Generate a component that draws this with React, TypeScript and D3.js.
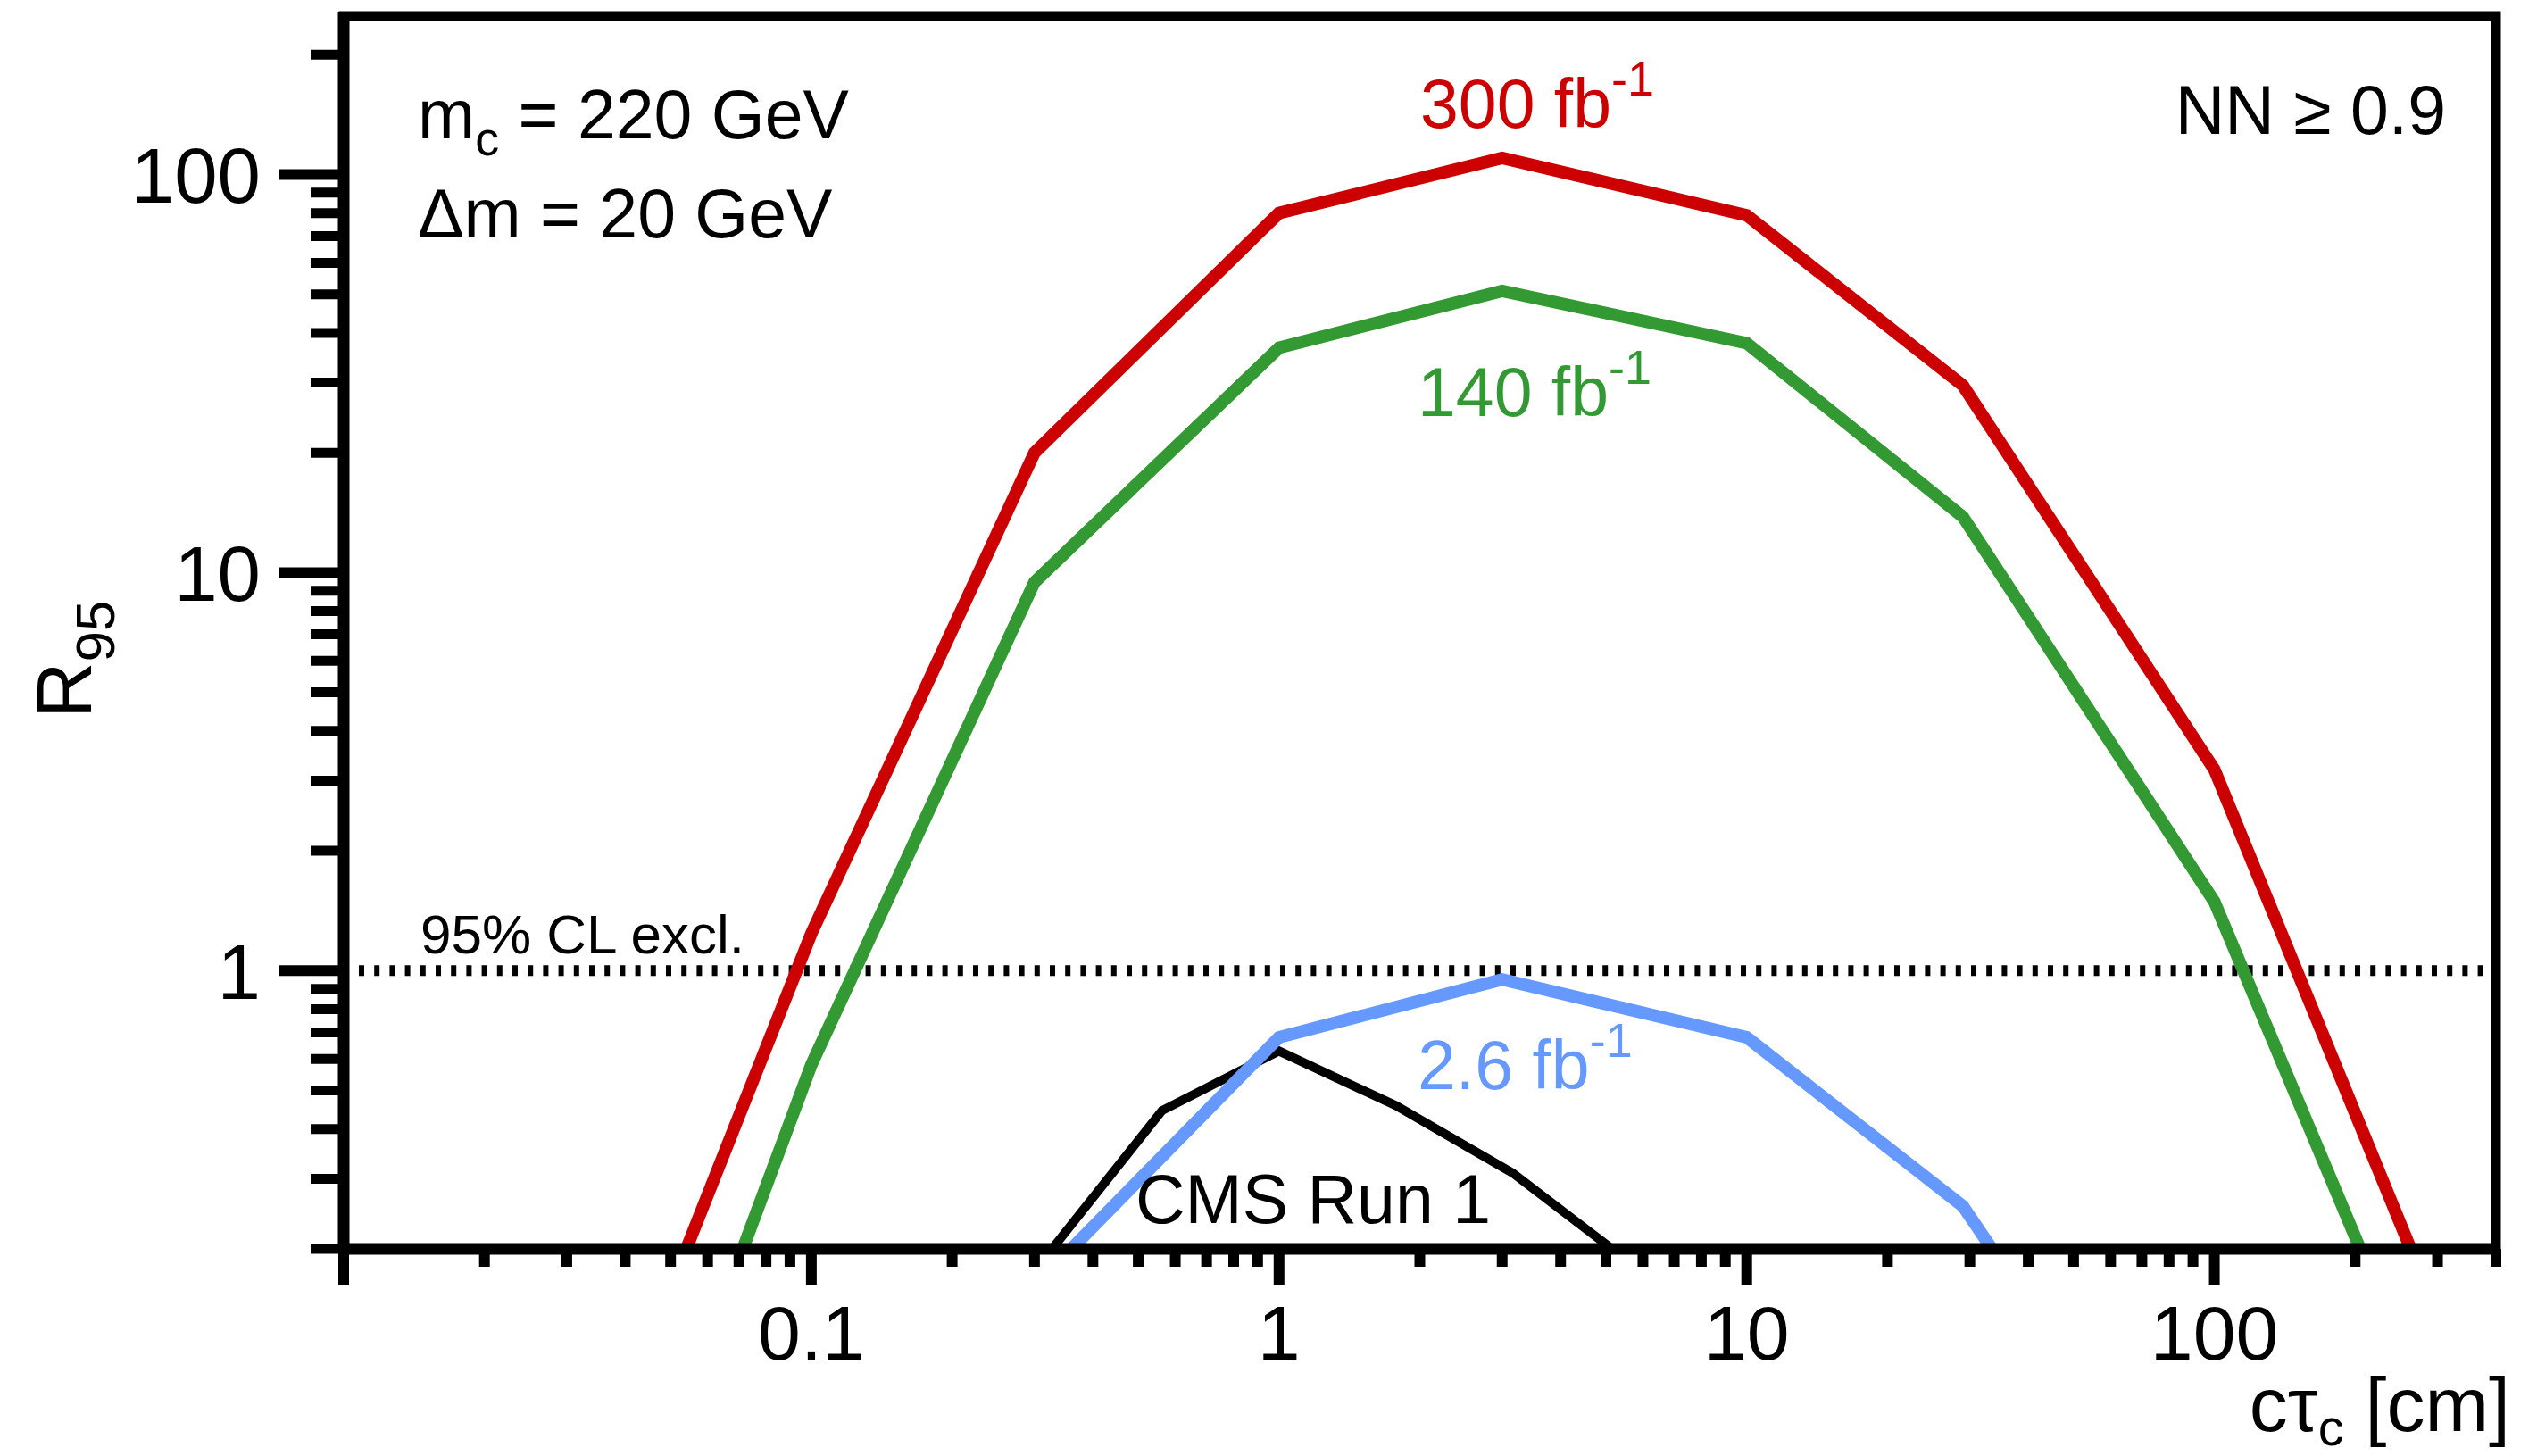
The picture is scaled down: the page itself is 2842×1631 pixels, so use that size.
import React from "react";
import * as d3 from "d3";

// ---- Data ----
const gridX = [0.03, 0.1, 0.3, 1, 3, 10, 29, 100, 300];
const r95_300 = [0.035, 1.24, 20.0, 80, 110, 79, 29.5, 3.2, 0.137];
const r95_140 = [0.013, 0.58, 9.46, 36.7, 51, 37.7, 13.8, 1.49, 0.069];

const lumi26X = [0.3, 1, 3, 10, 29, 100];
const r95_26 = [0.161, 0.68, 0.95, 0.68, 0.256, 0.03];

const cmsX = [0.316, 0.562, 1, 1.778, 3.162, 5.623];
const r95_cms = [0.19, 0.445, 0.628, 0.458, 0.31, 0.185];

const xTickValues = [0.1, 1, 10, 100];
const xTickLabels = ["0.1", "1", "10", "100"];
const yTickValues = [1, 10, 100];
const yTickLabels = ["1", "10", "100"];

const W = 2842;
const H = 1631;
const FONT = "'Liberation Sans', Arial, Helvetica, sans-serif";

const RED = "#cc0000";
const GREEN = "#339933";
const BLUE = "#6699ff";

export default function App() {
  const x = d3.scaleLog().domain([0.01, 400]).range([385, 2796]);
  const y = d3.scaleLog().domain([0.2, 250]).range([1399, 18]);
  const [x0, x1] = x.range();
  const [y0, y1] = y.range();

  const line = d3
    .line<[number, number]>()
    .x((d) => x(d[0]))
    .y((d) => y(d[1]));

  const zip = (xs: number[], ys: number[]) =>
    xs.map((v, i) => [v, ys[i]] as [number, number]);

  // minor ticks
  const xMinor: number[] = [];
  for (let e = -2; e <= 2; e++) {
    for (let k = 2; k <= 9; k++) {
      const v = k * Math.pow(10, e);
      if (v <= 400.0001) xMinor.push(v);
    }
  }
  const xMajor = [0.01, 0.1, 1, 10, 100];
  const yMinor: number[] = [];
  for (let e = -1; e <= 2; e++) {
    for (let k = 2; k <= 9; k++) {
      const v = k * Math.pow(10, e);
      if (v >= 0.1999 && v <= 250) yMinor.push(v);
    }
  }

  return (
    <svg
      width={W}
      height={H}
      style={{ position: "absolute", left: 0, top: 0, background: "#fff" }}
      fontFamily={FONT}
    >
      <rect x={0} y={0} width={W} height={H} fill="#fff" />
      <defs>
        <clipPath id="plotClip">
          <rect x={x0} y={y1} width={x1 - x0} height={y0 - y1} />
        </clipPath>
      </defs>

      {/* 95% CL line */}
      <line
        x1={402}
        x2={x1 - 6}
        y1={y(1)}
        y2={y(1)}
        stroke="#000"
        strokeWidth={12}
        strokeDasharray="6 11.2"
      />

      <g clipPath="url(#plotClip)" fill="none" strokeLinejoin="miter">
        <path d={line(zip(cmsX, r95_cms)) || ""} stroke="#000" strokeWidth={10} />
        <path d={line(zip(lumi26X, r95_26)) || ""} stroke={BLUE} strokeWidth={14} />
        <path d={line(zip(gridX, r95_140)) || ""} stroke={GREEN} strokeWidth={14} />
        <path d={line(zip(gridX, r95_300)) || ""} stroke={RED} strokeWidth={14} />
      </g>

      {/* frame */}
      <rect
        x={x0}
        y={y1}
        width={x1 - x0}
        height={y0 - y1}
        fill="none"
        stroke="#000"
        strokeWidth={11}
      />
      <line x1={x0} x2={x0} y1={y1 - 5} y2={y0} stroke="#000" strokeWidth={13} />
      <line x1={x0 - 6} x2={x1 + 5} y1={y0} y2={y0} stroke="#000" strokeWidth={13} />

      {/* x ticks */}
      {xMinor.map((v, i) => (
        <line key={"xm" + i} x1={x(v)} x2={x(v)} y1={y0} y2={1419} stroke="#000" strokeWidth={12} />
      ))}
      {xMajor.map((v, i) => (
        <line key={"xM" + i} x1={x(v)} x2={x(v)} y1={y0} y2={1440} stroke="#000" strokeWidth={12} />
      ))}
      {/* y ticks */}
      {yMinor.map((v, i) => (
        <line key={"ym" + i} x1={348} x2={x0} y1={y(v)} y2={y(v)} stroke="#000" strokeWidth={11} />
      ))}
      {yTickValues.map((v, i) => (
        <line key={"yM" + i} x1={312} x2={x0} y1={y(v)} y2={y(v)} stroke="#000" strokeWidth={12} />
      ))}

      {/* tick labels */}
      {xTickValues.map((v, i) => (
        <text key={"xl" + i} x={x(v)} y={1523} fontSize={86} textAnchor="middle" fill="#000">
          {xTickLabels[i]}
        </text>
      ))}
      {yTickValues.map((v, i) => (
        <text key={"yl" + i} x={292} y={y(v) + 32} fontSize={87} textAnchor="end" fill="#000">
          {yTickLabels[i]}
        </text>
      ))}

      {/* axis titles */}
      <text x={2812} y={1603} fontSize={86} textAnchor="end" fill="#000">
        cτ<tspan fontSize={58} dy={16}>c</tspan>
        <tspan dy={-16}> [cm]</tspan>
      </text>
      <text transform="translate(102,805) rotate(-90)" fontSize={88} fill="#000">
        R<tspan fontSize={62} dy={26}>95</tspan>
      </text>

      {/* annotations */}
      <text x={468} y={155} fontSize={77} fill="#000">
        m<tspan fontSize={54} dy={19}>c</tspan>
        <tspan dy={-19}> = 220 GeV</tspan>
      </text>
      <text x={468} y={266} fontSize={77} fill="#000">
        Δm = 20 GeV
      </text>
      <text x={2740} y={150} fontSize={77} textAnchor="end" fill="#000">
        NN ≥ 0.9
      </text>
      <text x={471} y={1068} fontSize={62} fill="#000">
        95% CL excl.
      </text>

      <text x={1591} y={143} fontSize={77} fill={RED}>
        300 fb<tspan fontSize={54} dy={-36}>-1</tspan>
      </text>
      <text x={1588} y={466} fontSize={77} fill={GREEN}>
        140 fb<tspan fontSize={54} dy={-36}>-1</tspan>
      </text>
      <text x={1588} y={1220} fontSize={77} fill={BLUE}>
        2.6 fb<tspan fontSize={54} dy={-36}>-1</tspan>
      </text>
      <text x={1272} y={1370} fontSize={77} fill="#000">
        CMS Run 1
      </text>
    </svg>
  );
}
